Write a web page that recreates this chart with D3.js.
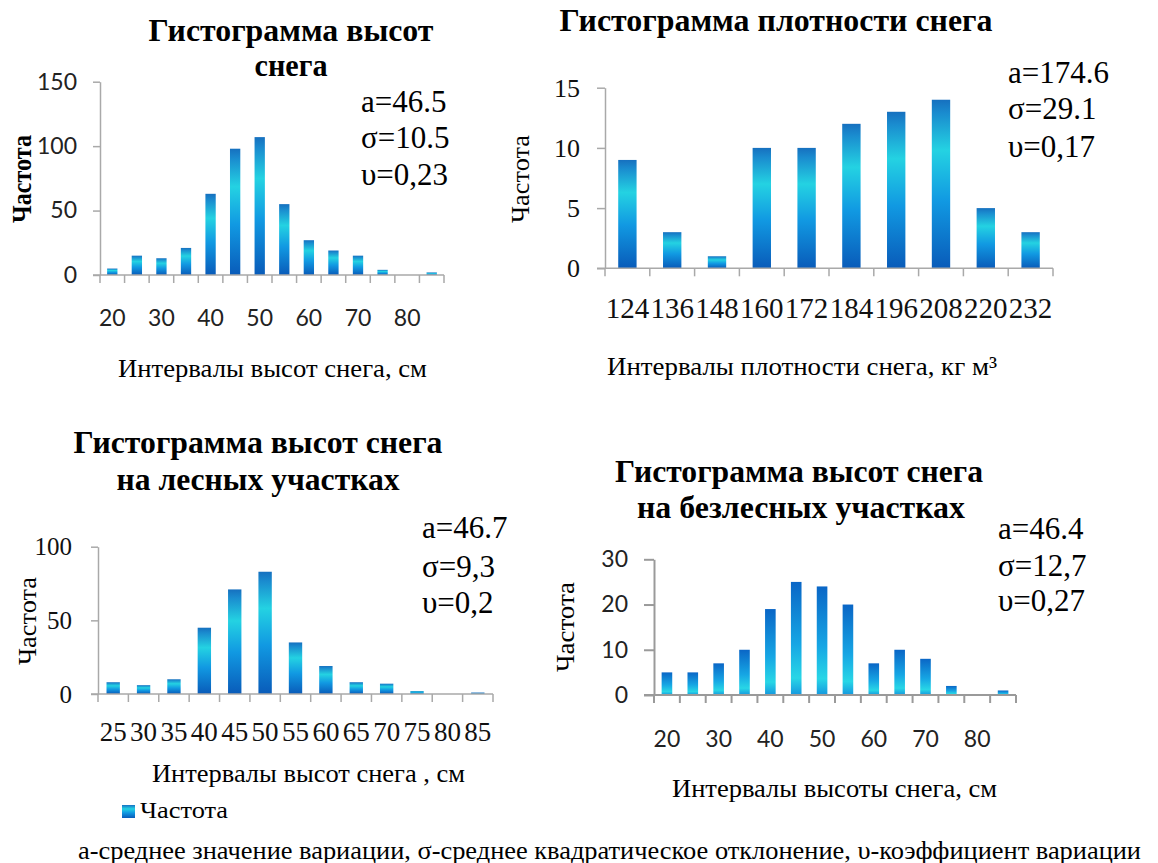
<!DOCTYPE html>
<html>
<head>
<meta charset="utf-8">
<script src="https://cdn.jsdelivr.net/npm/d3@7"></script>
<style>
  body { margin: 0; background: #fff; }
  svg { display: block; }
  .serif { font-family: "Liberation Serif", "DejaVu Serif", serif; }
  .sans { font-family: Lato, "Open Sans", sans-serif; }
</style>
</head>
<body>
<svg id="chart" width="1158" height="863"></svg>
<script>
// Высоты снега (все участки), интервалы, см
const heightCats = [20, 25, 30, 35, 40, 45, 50, 55, 60, 65, 70, 75, 80, 85];
const heightFreq = [5, 15, 13, 21, 63, 98, 107, 55, 27, 19, 15, 4, 0, 2];
const heightTicks = [0, 50, 100, 150];
const heightLabels = [20, 30, 40, 50, 60, 70, 80];
const heightStats = ["a=46.5", "σ=10.5", "υ=0,23"];

// Плотность снега, кг/м³
const densityCats = [124, 136, 148, 160, 172, 184, 196, 208, 220, 232];
const densityFreq = [9, 3, 1, 10, 10, 12, 13, 14, 5, 3];
const densityTicks = [0, 5, 10, 15];
const densityStats = ["a=174.6", "σ=29.1", "υ=0,17"];

// Высоты снега на лесных участках
const forestCats = [25, 30, 35, 40, 45, 50, 55, 60, 65, 70, 75, 80, 85];
const forestFreq = [8, 6, 10, 45, 71, 83, 35, 19, 8, 7, 2, 0, 1];
const forestTicks = [0, 50, 100];
const forestStats = ["a=46.7", "σ=9,3", "υ=0,2"];

// Высоты снега на безлесных участках
const openCats = [20, 25, 30, 35, 40, 45, 50, 55, 60, 65, 70, 75, 80, 85];
const openFreq = [5, 5, 7, 10, 19, 25, 24, 20, 7, 10, 8, 2, 0, 1];
const openTicks = [0, 10, 20, 30];
const openLabels = [20, 30, 40, 50, 60, 70, 80];
const openStats = ["a=46.4", "σ=12,7", "υ=0,27"];

const footnote = "а-среднее значение вариации, σ-среднее квадратическое отклонение, υ-коэффициент вариации";

const svg = d3.select("#chart");
const defs = svg.append("defs");

// Bar fills: per-bar vertical gradient
function gradient(id, stops) {
  const g = defs.append("linearGradient").attr("id", id)
    .attr("x1", 0).attr("y1", 0).attr("x2", 0).attr("y2", 1);
  stops.forEach(([o, c]) => g.append("stop").attr("offset", o).attr("stop-color", c));
}
gradient("gradA", [[0, "#1670bf"], [0.08, "#1a8ccf"], [0.3, "#24d2e2"], [0.6, "#1199e2"], [1, "#095bb9"]]);
gradient("gradB", [[0, "#0a66c6"], [0.55, "#16a6e4"], [0.85, "#28d6e6"], [1, "#1598df"]]);

function addText(sel, t, o) {
  const el = sel.append("text")
    .attr("class", o.cls || "serif")
    .attr("x", o.x).attr("y", o.y)
    .style("font-size", o.size + "px")
    .style("font-weight", o.weight || "normal")
    .attr("text-anchor", o.anchor || "start")
    .attr("fill", o.fill || "#000")
    .text(t);
  if (o.len) el.attr("textLength", o.len).attr("lengthAdjust", "spacingAndGlyphs");
  if (o.rotate) el.attr("transform", `rotate(-90, ${o.x}, ${o.y})`).attr("dy", "0.35em");
  return el;
}

function drawPanel(o) {
  const g = svg.append("g");
  const n = o.cats.length;
  const x = d3.scaleBand().domain(o.cats).range(o.xr)
    .paddingInner(o.pad).paddingOuter(o.pad / 2);
  const y = d3.scaleLinear().domain([0, o.yMax]).range(o.yr);
  const y0 = y(0);

  // bars
  g.selectAll("rect.bar")
    .data(o.cats.map((c, i) => ({ c, v: o.vals[i] })))
    .join("rect")
    .attr("class", "bar")
    .attr("x", d => x(d.c))
    .attr("width", x.bandwidth())
    .attr("y", d => y(d.v))
    .attr("height", d => y0 - y(d.v))
    .attr("fill", `url(#${o.grad})`);

  // value axis
  const ya = g.append("g")
    .attr("transform", `translate(${o.xr[0]},0)`)
    .call(d3.axisLeft(y).tickValues(o.yTicks).tickSize(o.tick).tickPadding(o.tickPad).tickSizeOuter(0));
  ya.attr("font-family", null).attr("font-size", null);
  ya.select(".domain").attr("stroke", o.axisColor).attr("stroke-width", o.axisW);
  ya.selectAll(".tick line").attr("stroke", o.axisColor).attr("stroke-width", o.axisW);
  ya.selectAll(".tick text")
    .attr("class", o.tickCls).style("font-size", o.tickSize + "px").attr("fill", o.tickFill);

  // category axis line and boundary tick marks
  g.append("line")
    .attr("x1", o.xr[0] - o.tick).attr("x2", o.xr[1])
    .attr("y1", y0).attr("y2", y0)
    .attr("stroke", o.axisColor).attr("stroke-width", o.axisW);
  g.selectAll("line.btick")
    .data(d3.range(n + 1).map(i => o.xr[0] + i * x.step()))
    .join("line")
    .attr("class", "btick")
    .attr("x1", d => d).attr("x2", d => d)
    .attr("y1", y0).attr("y2", y0 + 8)
    .attr("stroke", o.axisColor).attr("stroke-width", o.axisW);

  // category labels
  const xa = g.append("g")
    .attr("transform", `translate(0,${y0})`)
    .call(d3.axisBottom(x).tickValues(o.xLabels || o.cats).tickSize(0));
  xa.attr("font-family", null).attr("font-size", null);
  xa.select(".domain").remove();
  xa.selectAll(".tick text")
    .attr("y", o.xLabelBase - y0).attr("dy", null)
    .attr("class", o.tickCls)
    .style("font-size", (o.xSize || o.tickSize) + "px")
    .attr("fill", o.tickFill);

  // titles
  o.title.forEach(t => addText(g, t.text, { x: t.x, y: t.y, size: 31, weight: "bold", anchor: "middle", len: t.len }));

  // statistics block
  o.stats.forEach((s, i) => addText(g, s, { x: o.statX, y: o.statY[i], size: 31 }));

  // axis titles
  addText(g, "Частота", { x: o.yTitle[0], y: o.yTitle[1], size: o.yTitleBold ? 28 : 26,
    weight: o.yTitleBold ? "bold" : "normal", anchor: "middle", rotate: true, len: o.yTitle[2] });
  addText(g, o.xTitle.text, { x: o.xTitle.x, y: o.xTitle.y, size: 26, len: o.xTitle.len });
  return g;
}

// Гистограмма высот снега
drawPanel({
  cats: heightCats, vals: heightFreq, yMax: 150, yTicks: heightTicks, xLabels: heightLabels,
  xr: [100, 444], yr: [275, 81.7], pad: 0.58, grad: "gradA",
  tick: 7, tickPad: 16, axisColor: "#a9a9a9", axisW: 1.5,
  tickCls: "sans", tickSize: 23, tickFill: "#222", xLabelBase: 326,
  title: [{ text: "Гистограмма высот", x: 291, y: 41, len: 285 }, { text: "снега", x: 291, y: 76, len: 73 }],
  stats: heightStats, statX: 361, statY: [112, 148, 185],
  yTitle: [21, 179, 88], yTitleBold: true,
  xTitle: { text: "Интервалы высот снега, см", x: 118, y: 377, len: 309 }
});

// Гистограмма плотности снега
drawPanel({
  cats: densityCats, vals: densityFreq, yMax: 15, yTicks: densityTicks,
  xr: [605, 1053], yr: [268.3, 87.7], pad: 0.59, grad: "gradA",
  tick: 8, tickPad: 17, axisColor: "#a9a9a9", axisW: 1.5,
  tickCls: "serif", tickSize: 26, tickFill: "#111", xSize: 29, xLabelBase: 318,
  title: [{ text: "Гистограмма плотности снега", x: 776, y: 31, len: 433 }],
  stats: densityStats, statX: 1008, statY: [83, 119, 157],
  yTitle: [520, 179, 88],
  xTitle: { text: "Интервалы плотности снега, кг м³", x: 607, y: 375, len: 390 }
});

// Гистограмма высот снега на лесных участках
drawPanel({
  cats: forestCats, vals: forestFreq, yMax: 100, yTicks: forestTicks,
  xr: [98, 493], yr: [694, 546.7], pad: 0.56, grad: "gradA",
  tick: 7, tickPad: 19, axisColor: "#a9a9a9", axisW: 1.5,
  tickCls: "serif", tickSize: 25, tickFill: "#111", xSize: 27, xLabelBase: 741,
  title: [{ text: "Гистограмма высот снега", x: 258, y: 453, len: 369 },
          { text: "на лесных участках", x: 258, y: 490, len: 283 }],
  stats: forestStats, statX: 422, statY: [538, 577, 613],
  yTitle: [27, 621, 88],
  xTitle: { text: "Интервалы высот снега , см", x: 152, y: 782, len: 313 }
});

// Гистограмма высот снега на безлесных участках
drawPanel({
  cats: openCats, vals: openFreq, yMax: 30, yTicks: openTicks, xLabels: openLabels,
  xr: [654, 1016], yr: [695, 559.3], pad: 0.59, grad: "gradB",
  tick: 10, tickPad: 16, axisColor: "#9a9a9a", axisW: 2,
  tickCls: "sans", tickSize: 23, tickFill: "#222", xLabelBase: 747,
  title: [{ text: "Гистограмма высот снега", x: 799, y: 482, len: 368 },
          { text: "на безлесных участках", x: 801, y: 518, len: 328 }],
  stats: openStats, statX: 998, statY: [539, 576, 611],
  yTitle: [565, 627, 90],
  xTitle: { text: "Интервалы высоты снега, см", x: 672, y: 797, len: 325 }
});

// Legend
svg.append("rect").attr("x", 122).attr("y", 805).attr("width", 13).attr("height", 13).attr("fill", "url(#gradA)");
addText(svg, "Частота", { x: 140, y: 818, size: 24, len: 88 });

// Footnote
addText(svg, footnote, { x: 78, y: 859, size: 25, len: 1063 });
</script>
</body>
</html>
